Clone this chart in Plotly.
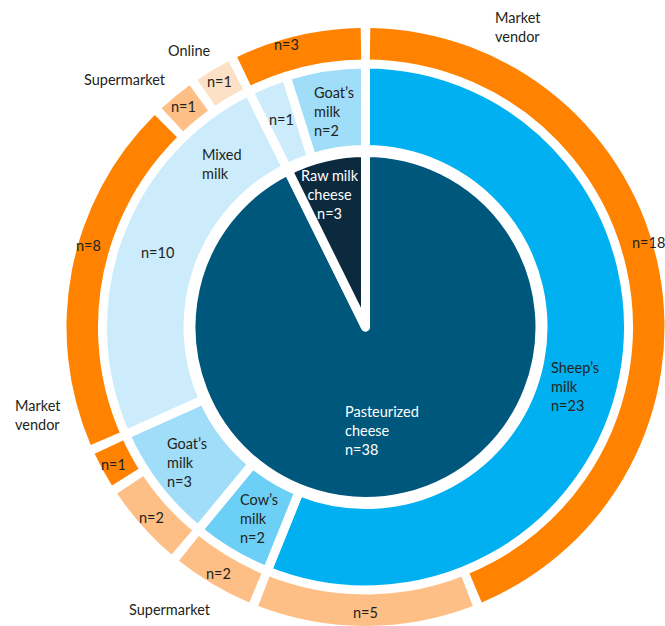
import numpy as np
import plotly.graph_objects as go

# ---------------- data ----------------
inner_labels = ["Pasteurized cheese", "Raw milk cheese"]
inner_values = [38, 3]

middle_labels = ["Sheep’s milk", "Cow’s milk", "Goat’s milk", "Mixed milk", "Mixed milk", "Goat’s milk"]
middle_values = [23, 2, 3, 10, 1, 2]

outer_labels = ["Market vendor", "Supermarket", "Supermarket", "Supermarket", "Market vendor",
                "Market vendor", "Supermarket", "Online", "Market vendor"]
outer_values = [18, 5, 2, 2, 1, 8, 1, 1, 3]

# ---------------- style ----------------
W, H = 665, 626
CX, CY = 365.5, 327
FONT = "Lato"
FS = 14.5
TXT = "#231F20"

inner_colors = {"Pasteurized cheese": "#00577C", "Raw milk cheese": "#0C2A3E"}
middle_colors = {"Sheep’s milk": "#00B0F0", "Cow’s milk": "#6CCFF6",
                 "Goat’s milk": "#A0DDF9", "Mixed milk": "#CCECFB"}
outer_colors = {"Market vendor": "#FF8300", "Supermarket": "#FDBF85", "Online": "#FDE1C6"}


def dom(r):
    return dict(x=[max(0, (CX - r) / W), min(1, (CX + r) / W)],
                y=[max(0, 1 - (CY + r) / H), min(1, 1 - (CY - r) / H)])


def pxy(angle_deg, r):
    a = np.radians(angle_deg)
    return (CX + r * np.sin(a)) / W, 1 - (CY - r * np.cos(a)) / H


def mids(values):
    tot = sum(values)
    c = np.cumsum([0] + list(values))
    return [(c[i] + values[i] / 2) / tot * 360 for i in range(len(values))]


fig = go.Figure()

# outer ring (gaps as transparent separator slices)
R_OUT = 299
GAP = 0.21
ov, oc = [], []
for v, l in zip(outer_values, outer_labels):
    ov += [v - GAP, GAP]
    oc += [outer_colors[l], "rgba(0,0,0,0)"]
total = sum(outer_values)
fig.add_trace(go.Pie(values=ov, sort=False, direction="clockwise",
                     rotation=GAP / 2 / total * 360,
                     marker=dict(colors=oc, line=dict(width=0)),
                     hole=266 / R_OUT, domain=dom(R_OUT),
                     textinfo="none", hoverinfo="skip", showlegend=False))

# middle ring
R_MID = 263
fig.add_trace(go.Pie(labels=[f"{l} {i}" for i, l in enumerate(middle_labels)],
                     values=middle_values, sort=False, direction="clockwise",
                     marker=dict(colors=[middle_colors[l] for l in middle_labels],
                                 line=dict(color="white", width=9)),
                     hole=177.5 / R_MID, domain=dom(R_MID),
                     textinfo="none", hoverinfo="skip", showlegend=False))

# inner pie
R_IN = 174.5
fig.add_trace(go.Pie(labels=inner_labels, values=inner_values, sort=False, direction="clockwise",
                     marker=dict(colors=[inner_colors[l] for l in inner_labels],
                                 line=dict(color="white", width=9)),
                     domain=dom(R_IN),
                     textinfo="none", hoverinfo="skip", showlegend=False))

ann = []


def add(text, angle, r, color=TXT, align="left"):
    x, y = pxy(angle, r)
    ann.append(dict(x=x, y=y, xref="paper", yref="paper", text=text, showarrow=False,
                    xanchor="center", yanchor="middle", align=align,
                    font=dict(family=FONT, size=FS, color=color)))


# inner texts
im = mids(inner_values)
add(f"Pasteurized<br>cheese<br>n={inner_values[0]}", im[0] + 4, 105, "white", "left")
add(f"Raw milk<br>cheese<br>n={inner_values[1]}", im[1] - 2, 137, "white", "center")

# middle texts
mm = mids(middle_values)
add(f"Sheep’s<br>milk<br>n={middle_values[0]}", mm[0] + 5, 218)
add(f"Cow’s<br>milk<br>n={middle_values[1]}", mm[1] - 1.5, 219)
add(f"Goat’s<br>milk<br>n={middle_values[2]}", mm[2], 224)
add(f"n={middle_values[3]}", mm[3], 221)
add("Mixed<br>milk", mm[3] + 29, 217)
add(f"n={middle_values[4]}", mm[4], 224)
add(f"Goat’s<br>milk<br>n={middle_values[5]}", mm[5] + 0.5, 218)

# outer texts
om = mids(outer_values)
nudge = [-5.6, 0, 0, 0, 0, 5.5, 0, 0, -2.5]
rads = [295, 285, 287, 287, 287, 289, 286, 286, 293]
for v, a, d, r in zip(outer_values, om, nudge, rads):
    add(f"n={v}", a + d, r, align="center")

# category labels outside the rings
def lab(text, px, py):
    ann.append(dict(x=px / W, y=1 - py / H, xref="paper", yref="paper", text=text,
                    showarrow=False, xanchor="center", yanchor="middle", align="left",
                    font=dict(family=FONT, size=FS, color=TXT)))


lab("Market<br>vendor", 518, 27)
lab("Online", 189, 50)
lab("Supermarket", 125, 79)
lab("Market<br>vendor", 38, 415)
lab("Supermarket", 170, 609)

fig.update_layout(width=W, height=H, margin=dict(l=0, r=0, t=0, b=0),
                  paper_bgcolor="white", plot_bgcolor="white",
                  showlegend=False, annotations=ann)

fig.write_html("out.html")
